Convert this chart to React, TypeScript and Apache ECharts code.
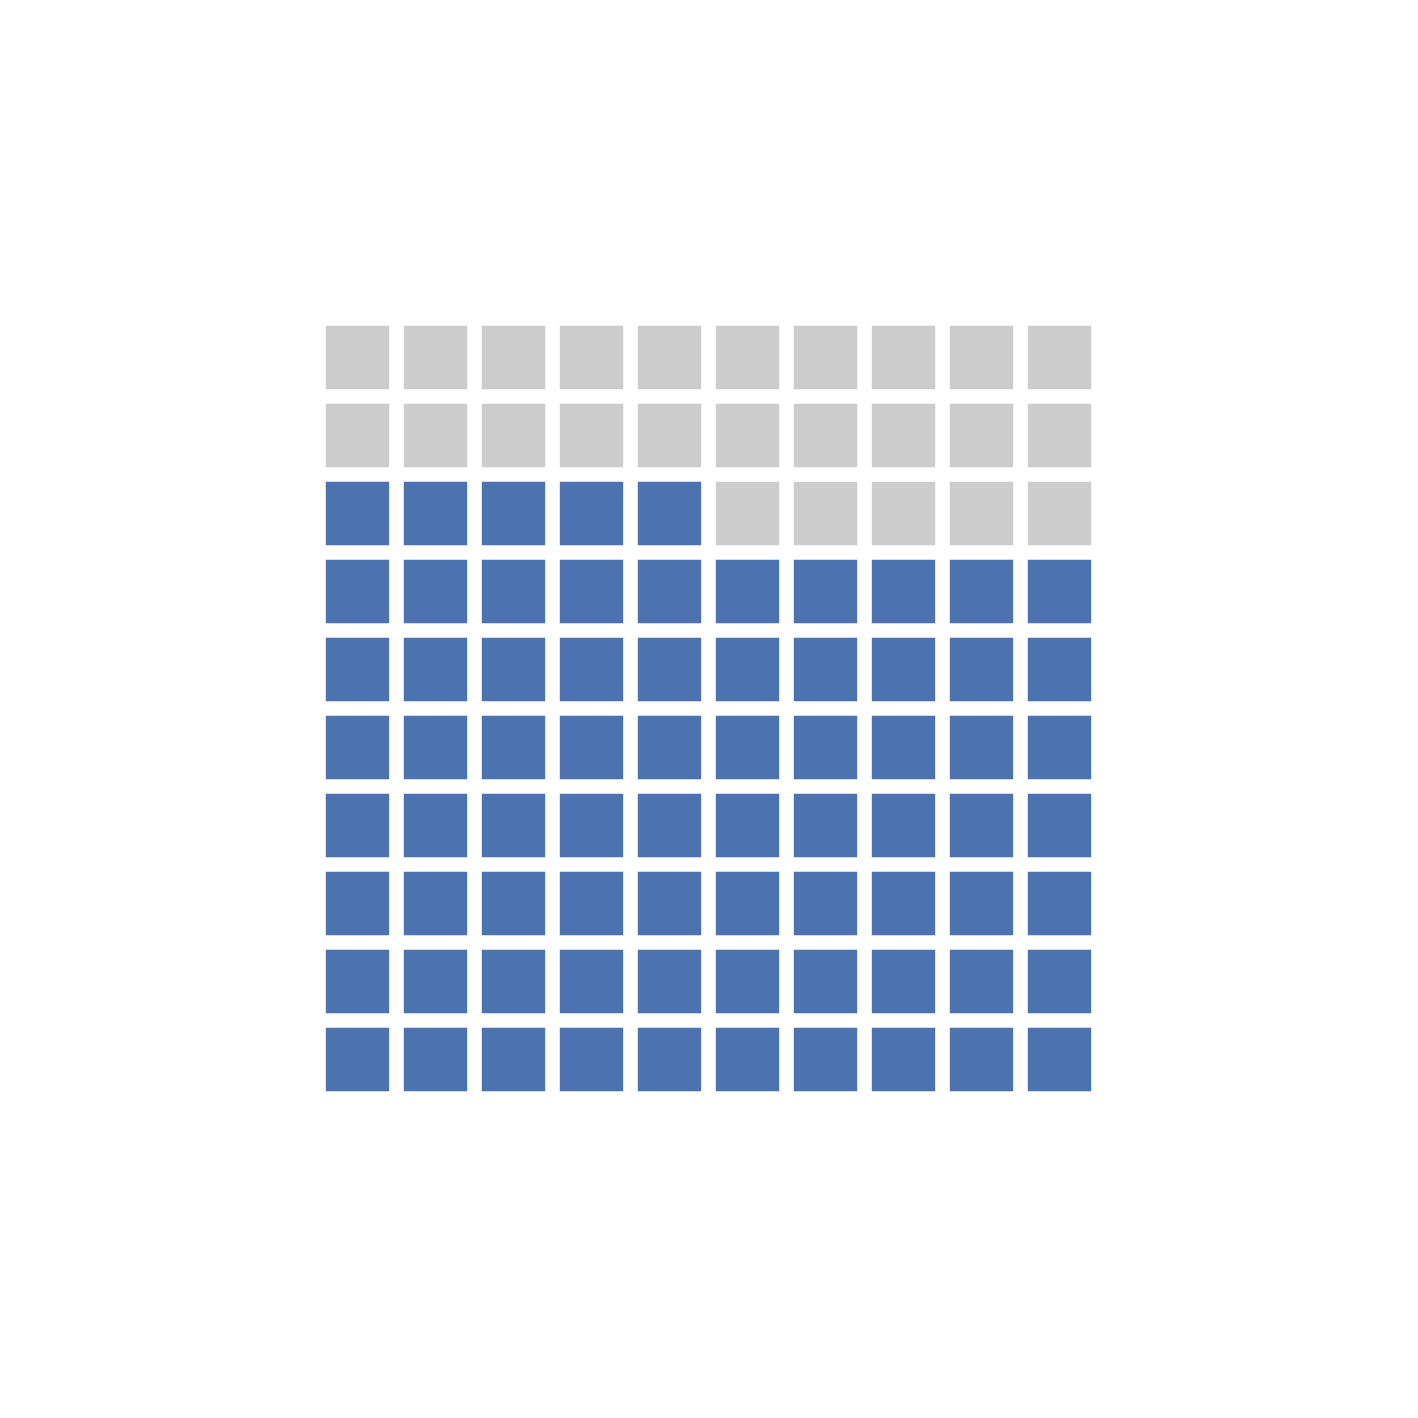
import * as React from 'react';
import * as echarts from 'echarts';

// Waffle chart: 10 x 10 grid, filled from the bottom-left, row by row
const categories = ['Filled', 'Remaining'];
const values = [75, 25];
const colors = ['#4C72B0', '#CCCCCC'];
const gridColumns = 10;
const gridRows = 10;

// cell gap as a fraction of one grid unit
const cellFraction = 63.4 / 78;

function buildCells() {
  const cells: [number, number, number][] = [];
  let index = 0;
  categories.forEach((_, catIndex) => {
    for (let k = 0; k < values[catIndex]; k++) {
      const col = index % gridColumns;
      const row = Math.floor(index / gridColumns);
      cells.push([col, row, catIndex]);
      index++;
    }
  });
  return cells;
}

export default function App() {
  const chartRef = React.useRef<HTMLDivElement>(null);

  React.useEffect(() => {
    if (!chartRef.current) return;
    const chart = echarts.init(chartRef.current, undefined, { renderer: 'svg' });

    const option: echarts.EChartsCoreOption = {
      animation: false,
      backgroundColor: '#ffffff',
      grid: {
        left: 318.5,
        top: 318.5,
        width: 780,
        height: 780,
      },
      xAxis: {
        type: 'value',
        min: 0,
        max: gridColumns,
        show: false,
      },
      yAxis: {
        type: 'value',
        min: 0,
        max: gridRows,
        show: false,
      },
      series: [
        {
          type: 'custom',
          data: buildCells(),
          renderItem: (params: any, api: any) => {
            const col = api.value(0);
            const row = api.value(1);
            const cat = api.value(2);
            const topLeft = api.coord([col, row + 1]);
            const size = api.size([1, 1]);
            const w = size[0] * cellFraction;
            const h = size[1] * cellFraction;
            return {
              type: 'rect',
              shape: {
                x: topLeft[0] + (size[0] - w) / 2,
                y: topLeft[1] + (size[1] - h) / 2,
                width: w,
                height: h,
              },
              style: { fill: colors[cat] },
            };
          },
        },
      ],
    };

    chart.setOption(option);
    return () => {
      chart.dispose();
    };
  }, []);

  return (
    <div
      ref={chartRef}
      style={{ position: 'fixed', left: 0, top: 0, width: '1418px', height: '1418px' }}
    />
  );
}
